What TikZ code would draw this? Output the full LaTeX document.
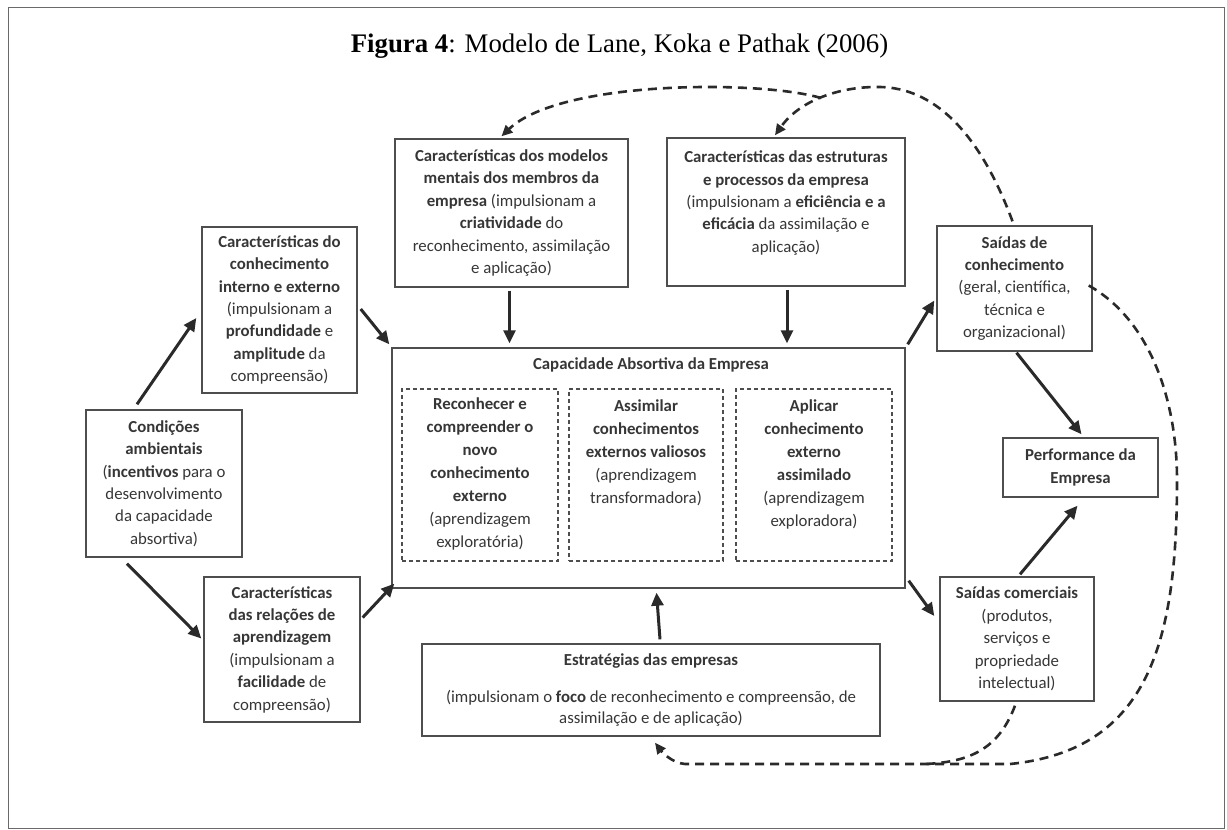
\documentclass[tikz,border=0pt]{standalone}
\usepackage{fontspec}
\setmainfont{Carlito}
\newfontfamily\titlefont{Liberation Serif}
\usetikzlibrary{arrows.meta,calc}

\definecolor{ink}{HTML}{363636}
\definecolor{edge}{HTML}{4E4E4E}
\definecolor{flow}{HTML}{2A2A2A}
\definecolor{frame}{HTML}{6A6A6A}

\begin{document}
\begin{tikzpicture}[x=1pt,y=-1pt,
  box/.style={draw=edge, line width=1.4pt, rectangle, inner sep=0pt},
  txt/.style={align=center, text=ink, inner sep=0pt,
              font=\fontsize{16.8}{22.4}\selectfont},
  subtxt/.style={txt, font=\fontsize{16.8}{23}\selectfont},
  subbox/.style={draw=edge, line width=1.1pt, dash pattern=on 4pt off 3pt,
                 rectangle, inner sep=0pt},
  arr/.style={draw=flow, line width=3pt, -{Triangle[length=13pt,width=12pt]}},
  feedback/.style={draw=flow, line width=2.6pt, dash pattern=on 9pt off 6pt,
                   -{Triangle[length=11pt,width=10pt]}},
  merge/.style={draw=flow, line width=2.6pt, dash pattern=on 9pt off 6pt}
]
\useasboundingbox (0,0) rectangle (1227,830);
\draw[draw=frame, line width=1pt] (8,7) rectangle (1224,828);

% title
\node[anchor=base, inner sep=0pt, font=\titlefont\fontsize{26.8}{30}\selectfont] (title)
  at (619.5,52) {\textbf{Figura 4}: Modelo de Lane, Koka e Pathak (2006)};

% left column
\node[box, txt, minimum width=155pt, minimum height=166pt] (ck) at (279.5,310)
  {\textbf{Características do}\\ \textbf{conhecimento}\\ \textbf{interno e externo}\\
   (impulsionam a\\ \textbf{profundidade} e\\ \textbf{amplitude} da\\ compreensão)};
\node[box, txt, minimum width=156pt, minimum height=147pt] (cond) at (164,483.5)
  {\textbf{Condições}\\ \textbf{ambientais}\\ (\textbf{incentivos} para o\\
   desenvolvimento\\ da capacidade\\ absortiva)};
\node[box, txt, minimum width=156pt, minimum height=145pt] (rel) at (282,649.5)
  {\textbf{Características}\\ \textbf{das relações de}\\ \textbf{aprendizagem}\\
   (impulsionam a\\ \textbf{facilidade} de\\ compreensão)};

% top row
\node[box, txt, minimum width=233pt, minimum height=148pt] (mod) at (511.5,213)
  {\textbf{Características dos modelos}\\ \textbf{mentais dos membros da}\\
   \textbf{empresa} (impulsionam a\\ \textbf{criatividade} do\\
   reconhecimento, assimilação\\ e aplicação)};
\node[box, minimum width=238pt, minimum height=148pt] (est) at (786,212) {};
\node[txt] (est-t) at (786,203)
  {\textbf{Características das estruturas}\\ \textbf{e processos da empresa}\\
   (impulsionam a \textbf{eficiência e a}\\ \textbf{eficácia} da assimilação e\\ aplicação)};

% absorptive capacity
\node[box, minimum width=513pt, minimum height=240pt] (cap) at (648.5,468) {};
\node[txt] (cap-t) at (651,365) {\textbf{Capacidade Absortiva da Empresa}};
\node[subbox, minimum width=156pt, minimum height=172pt] (s1) at (480,475) {};
\node[subbox, minimum width=154pt, minimum height=172pt] (s2) at (646,475) {};
\node[subbox, minimum width=156pt, minimum height=172pt] (s3) at (814,475) {};
\node[subtxt] (s1-t) at (480,474)
  {\textbf{Reconhecer e}\\ \textbf{compreender o}\\ \textbf{novo}\\ \textbf{conhecimento}\\
   \textbf{externo}\\ (aprendizagem\\ exploratória)};
\node[subtxt] (s2-t) at (646,453)
  {\textbf{Assimilar}\\ \textbf{conhecimentos}\\ \textbf{externos valiosos}\\
   (aprendizagem\\ transformadora)};
\node[subtxt] (s3-t) at (814,464)
  {\textbf{Aplicar}\\ \textbf{conhecimento}\\ \textbf{externo}\\ \textbf{assimilado}\\
   (aprendizagem\\ exploradora)};

% strategies
\node[box, minimum width=458pt, minimum height=92pt] (str) at (651,690) {};
\node[txt] (str-t) at (651,661) {\textbf{Estratégias das empresas}};
\node[txt, font=\fontsize{16.8}{20.6}\selectfont] (str-p) at (651,708)
  {(impulsionam o \textbf{foco} de reconhecimento e compreensão, de\\
   assimilação e de aplicação)};

% outputs
\node[box, txt, minimum width=155pt, minimum height=125pt] (sk) at (1014.5,288.5)
  {\textbf{Saídas de}\\ \textbf{conhecimento}\\ (geral, científica,\\ técnica e\\ organizacional)};
\node[box, txt, minimum width=155pt, minimum height=59pt] (perf) at (1080.5,467.5)
  {\textbf{Performance da}\\ \textbf{Empresa}};
\node[box, txt, minimum width=154pt, minimum height=124pt] (sc) at (1017,639)
  {\textbf{Saídas comerciais}\\ (produtos,\\ serviços e\\ propriedade\\ intelectual)};

% solid influences
\draw[arr] ($(cond.north)+(-27,-5)$) -- ($(ck.west)+(-5,8)$);
\draw[arr] ($(ck.east)+(3,-1)$) -- ($(cap.north west)+(-2,-3)$);
\draw[arr] ($(cond.south)+(-37,6)$) -- ($(rel.west)+(-2,-11)$);
\draw[arr] ($(rel.east)+(2,-32)$) -- ($(cap.south west)+(3,-5)$);
\draw[arr] ($(mod.south)+(-2,3)$) -- ($(mod.south |- cap.north)+(-2,-4)$);
\draw[arr] ($(est.south)+(1,3)$) -- ($(est.south |- cap.north)+(1,-4)$);
\draw[arr] ($(str.north)+(9,-4)$) -- ($(cap.south)+(8,4)$);
\draw[arr] ($(cap.north east)+(2,-3)$) -- ($(sk.west)+(-2,12)$);
\draw[arr] ($(cap.south east)+(3,-8)$) -- ($(sc.west)+(-5,-23)$);
\draw[arr] ($(sk.south)+(2,1)$) -- ($(perf.north)+(1,-3)$);
\draw[arr] ($(sc.north)+(3,-2)$) -- ($(perf.south)+(-3,8)$);

% feedback loops
\coordinate (fork) at (821,98);
\draw[feedback] ($(sk.north)+(-2,-4)$) .. controls (975,120) and (925,86) .. (876,87)
  .. controls (840,87) and (800,100) .. ($(est.north)+(-11,-2)$);
\draw[feedback] (fork) .. controls (760,80) and (560,80) .. ($(mod.north)+(-10,-2)$);
\draw[feedback] ($(sk.east)+(-4,-3)$) .. controls (1150,320) and (1177,400) .. (1177,480)
  .. controls (1177,640) and (1150,750) .. (1010,764) -- (685,764)
  .. controls (672,763) and (662,752) .. ($(str.south)+(4,6)$);
\draw[merge] ($(sc.south)+(-2,4)$) .. controls (1000,745) and (975,762) .. (925,764);
\end{tikzpicture}
\end{document}
